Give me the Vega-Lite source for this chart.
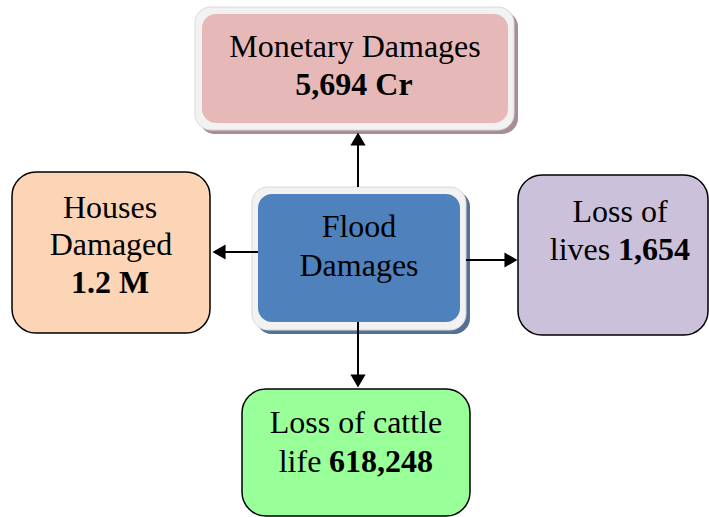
{
  "$schema": "https://vega.github.io/schema/vega-lite/v6.json",
  "width": 709,
  "height": 517,
  "padding": 0,
  "autosize": {"type": "fit", "contains": "padding"},
  "background": "white",
  "config": {"view": {"stroke": null}},
  "datasets": {
    "boxes": [
      {"box": "Monetary", "part": "shadow", "x1": 199, "x2": 518, "y1": 11, "y2": 134},
      {"box": "Monetary", "part": "frame", "x1": 195, "x2": 514, "y1": 7, "y2": 130},
      {"box": "Monetary", "part": "inner", "x1": 202, "x2": 508, "y1": 14, "y2": 123},
      {"box": "Flood", "part": "shadow", "x1": 256, "x2": 470, "y1": 191, "y2": 334},
      {"box": "Flood", "part": "frame", "x1": 252, "x2": 466, "y1": 187, "y2": 330},
      {"box": "Flood", "part": "inner", "x1": 258, "x2": 460, "y1": 194, "y2": 322},
      {"box": "Houses", "part": "plain", "x1": 12, "x2": 210, "y1": 172, "y2": 333},
      {"box": "Lives", "part": "plain", "x1": 518, "x2": 708, "y1": 175, "y2": 335},
      {"box": "Cattle", "part": "plain", "x1": 242, "x2": 470, "y1": 389, "y2": 516}
    ],
    "arrows": [
      {"dir": "up", "x1": 358, "y1": 187, "x2": 358, "y2": 142, "hx": 358, "hy": 139},
      {"dir": "left", "x1": 258, "y1": 252, "x2": 222, "y2": 252, "hx": 219, "hy": 252},
      {"dir": "right", "x1": 466, "y1": 260, "x2": 508, "y2": 260, "hx": 511, "hy": 260},
      {"dir": "down", "x1": 358, "y1": 322, "x2": 358, "y2": 378, "hx": 358, "hy": 381}
    ],
    "labels": [
      {"text": "Monetary Damages", "x": 355, "y": 57, "kind": "label"},
      {"text": "5,694 Cr", "x": 354, "y": 95, "kind": "value"},
      {"text": "Flood", "x": 359, "y": 237, "kind": "label"},
      {"text": "Damages", "x": 359, "y": 276, "kind": "label"},
      {"text": "Houses", "x": 110, "y": 218, "kind": "label"},
      {"text": "Damaged", "x": 111, "y": 255, "kind": "label"},
      {"text": "1.2 M", "x": 110, "y": 293, "kind": "value"},
      {"text": "Loss of", "x": 620, "y": 222, "kind": "label"},
      {"text": "lives", "x": 580, "y": 260, "kind": "label"},
      {"text": "1,654", "x": 654, "y": 260, "kind": "value"},
      {"text": "Loss of cattle", "x": 356, "y": 433, "kind": "label"},
      {"text": "life", "x": 300, "y": 472, "kind": "label"},
      {"text": "618,248", "x": 381, "y": 472, "kind": "value"}
    ]
  },
  "encoding": {},
  "layer": [
    {
      "data": {"name": "boxes"},
      "transform": [{"filter": "datum.part === 'shadow'"}],
      "mark": {"type": "rect", "cornerRadius": 16, "clip": true},
      "encoding": {
        "x": {"field": "x1", "type": "quantitative", "scale": {"domain": [0, 709], "nice": false, "zero": false}, "axis": null},
        "x2": {"field": "x2"},
        "y": {"field": "y1", "type": "quantitative", "scale": {"domain": [0, 517], "nice": false, "zero": false, "reverse": true}, "axis": null},
        "y2": {"field": "y2"},
        "color": {"field": "box", "type": "nominal", "legend": null,
          "scale": {"domain": ["Monetary", "Flood", "Houses", "Lives", "Cattle"], "range": ["#e6b9b8", "#4f81bd", "#fbd5b5", "#ccc1da", "#99ff99"]}}
      }
    },
    {
      "data": {"name": "boxes"},
      "transform": [{"filter": "datum.part === 'shadow'"}],
      "mark": {"type": "rect", "cornerRadius": 16, "fill": "#5a5a66", "opacity": 0.45, "clip": true},
      "encoding": {
        "x": {"field": "x1", "type": "quantitative", "scale": {"domain": [0, 709], "nice": false, "zero": false}, "axis": null},
        "x2": {"field": "x2"},
        "y": {"field": "y1", "type": "quantitative", "scale": {"domain": [0, 517], "nice": false, "zero": false, "reverse": true}, "axis": null},
        "y2": {"field": "y2"}
      }
    },
    {
      "data": {"name": "boxes"},
      "transform": [{"filter": "datum.part === 'frame'"}],
      "mark": {"type": "rect", "cornerRadius": 16, "fill": "#f2f2f2", "stroke": "#d9d9d9", "strokeWidth": 1, "clip": true},
      "encoding": {
        "x": {"field": "x1", "type": "quantitative", "scale": {"domain": [0, 709], "nice": false, "zero": false}, "axis": null},
        "x2": {"field": "x2"},
        "y": {"field": "y1", "type": "quantitative", "scale": {"domain": [0, 517], "nice": false, "zero": false, "reverse": true}, "axis": null},
        "y2": {"field": "y2"}
      }
    },
    {
      "data": {"name": "boxes"},
      "transform": [{"filter": "datum.part === 'inner'"}],
      "mark": {"type": "rect", "cornerRadius": 14, "clip": true},
      "encoding": {
        "x": {"field": "x1", "type": "quantitative", "scale": {"domain": [0, 709], "nice": false, "zero": false}, "axis": null},
        "x2": {"field": "x2"},
        "y": {"field": "y1", "type": "quantitative", "scale": {"domain": [0, 517], "nice": false, "zero": false, "reverse": true}, "axis": null},
        "y2": {"field": "y2"},
        "color": {"field": "box", "type": "nominal", "legend": null,
          "scale": {"domain": ["Monetary", "Flood", "Houses", "Lives", "Cattle"], "range": ["#e6b9b8", "#4f81bd", "#fbd5b5", "#ccc1da", "#99ff99"]}}
      }
    },
    {
      "data": {"name": "boxes"},
      "transform": [{"filter": "datum.part === 'plain'"}],
      "mark": {"type": "rect", "cornerRadius": 24, "stroke": "black", "strokeWidth": 1.5, "clip": true},
      "encoding": {
        "x": {"field": "x1", "type": "quantitative", "scale": {"domain": [0, 709], "nice": false, "zero": false}, "axis": null},
        "x2": {"field": "x2"},
        "y": {"field": "y1", "type": "quantitative", "scale": {"domain": [0, 517], "nice": false, "zero": false, "reverse": true}, "axis": null},
        "y2": {"field": "y2"},
        "color": {"field": "box", "type": "nominal", "legend": null,
          "scale": {"domain": ["Monetary", "Flood", "Houses", "Lives", "Cattle"], "range": ["#e6b9b8", "#4f81bd", "#fbd5b5", "#ccc1da", "#99ff99"]}}
      }
    },
    {
      "data": {"name": "arrows"},
      "mark": {"type": "rule", "color": "black", "strokeWidth": 2},
      "encoding": {
        "x": {"field": "x1", "type": "quantitative", "scale": {"domain": [0, 709], "nice": false, "zero": false}, "axis": null},
        "x2": {"field": "x2"},
        "y": {"field": "y1", "type": "quantitative", "scale": {"domain": [0, 517], "nice": false, "zero": false, "reverse": true}, "axis": null},
        "y2": {"field": "y2"}
      }
    },
    {
      "data": {"name": "arrows"},
      "mark": {"type": "point", "filled": true, "color": "black", "size": 230, "opacity": 1},
      "encoding": {
        "x": {"field": "hx", "type": "quantitative", "scale": {"domain": [0, 709], "nice": false, "zero": false}, "axis": null},
        "y": {"field": "hy", "type": "quantitative", "scale": {"domain": [0, 517], "nice": false, "zero": false, "reverse": true}, "axis": null},
        "shape": {"field": "dir", "type": "nominal", "legend": null,
          "scale": {"domain": ["up", "down", "left", "right"], "range": ["triangle-up", "triangle-down", "triangle-left", "triangle-right"]}}
      }
    },
    {
      "data": {"name": "labels"},
      "transform": [{"filter": "datum.kind === 'label'"}],
      "mark": {"type": "text", "font": "Liberation Serif", "fontSize": 32, "align": "center", "baseline": "alphabetic", "color": "black"},
      "encoding": {
        "x": {"field": "x", "type": "quantitative", "scale": {"domain": [0, 709], "nice": false, "zero": false}, "axis": null},
        "y": {"field": "y", "type": "quantitative", "scale": {"domain": [0, 517], "nice": false, "zero": false, "reverse": true}, "axis": null},
        "text": {"field": "text"}
      }
    },
    {
      "data": {"name": "labels"},
      "transform": [{"filter": "datum.kind === 'value'"}],
      "mark": {"type": "text", "font": "Liberation Serif", "fontSize": 32, "fontWeight": "bold", "align": "center", "baseline": "alphabetic", "color": "black"},
      "encoding": {
        "x": {"field": "x", "type": "quantitative", "scale": {"domain": [0, 709], "nice": false, "zero": false}, "axis": null},
        "y": {"field": "y", "type": "quantitative", "scale": {"domain": [0, 517], "nice": false, "zero": false, "reverse": true}, "axis": null},
        "text": {"field": "text"}
      }
    }
  ]
}
